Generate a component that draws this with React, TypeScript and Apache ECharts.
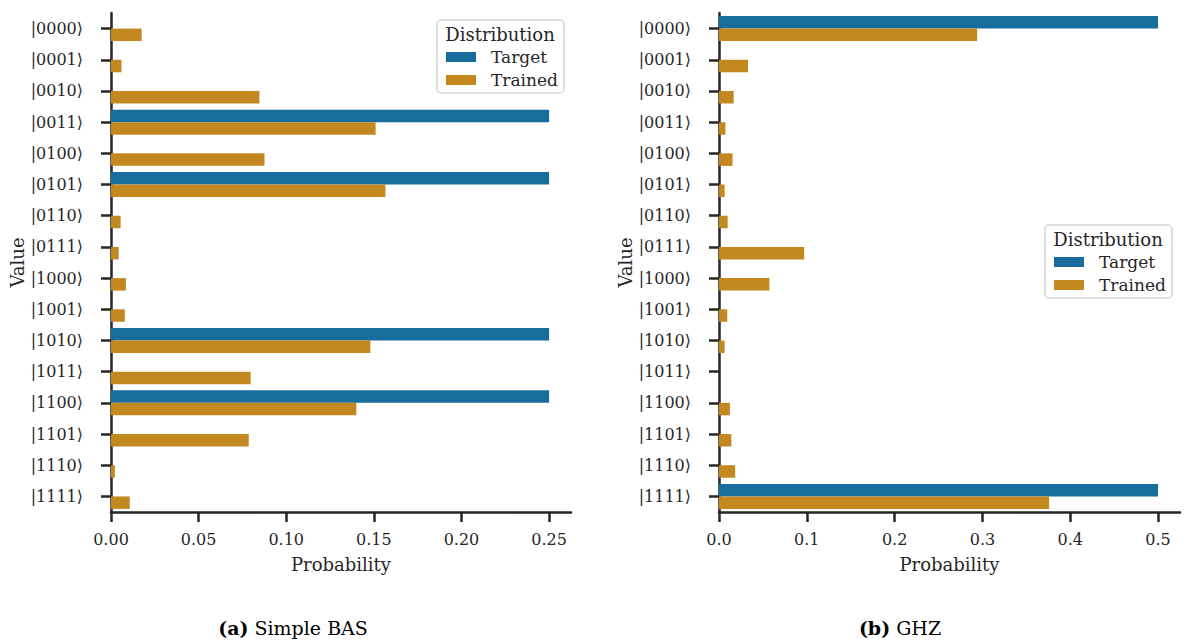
import React, { useEffect, useRef } from "react";
import * as echarts from "echarts";

const categories = [
  "|0000⟩", "|0001⟩", "|0010⟩", "|0011⟩",
  "|0100⟩", "|0101⟩", "|0110⟩", "|0111⟩",
  "|1000⟩", "|1001⟩", "|1010⟩", "|1011⟩",
  "|1100⟩", "|1101⟩", "|1110⟩", "|1111⟩",
];

const basTarget = [0, 0, 0, 0.25, 0, 0.25, 0, 0, 0, 0, 0.25, 0, 0.25, 0, 0, 0];
const basTrained = [
  0.0175, 0.006, 0.0847, 0.151, 0.0876, 0.1566, 0.0055, 0.0044,
  0.0085, 0.0079, 0.148, 0.0797, 0.14, 0.0786, 0.0022, 0.0107,
];

const ghzTarget = [0.5, 0, 0, 0, 0, 0, 0, 0, 0, 0, 0, 0, 0, 0, 0, 0.5];
const ghzTrained = [
  0.294, 0.033, 0.0167, 0.0073, 0.0154, 0.0064, 0.0099, 0.097,
  0.0574, 0.0094, 0.0064, 0, 0.0124, 0.0141, 0.0184, 0.376,
];

const basTicks = [0, 0.05, 0.1, 0.15, 0.2, 0.25];
const ghzTicks = [0, 0.1, 0.2, 0.3, 0.4, 0.5];
const basMax = 0.2625;
const ghzMax = 0.525;

const legendNames = ["Target", "Trained"];
const captions = ["Simple BAS", "GHZ"];

const FONT = "DejaVu Serif";
const FS = 16;
const TEXT = "#262626";
const BLUE = "#176D9C";
const ORANGE = "#C38820";

export default function App() {
  const ref = useRef<HTMLDivElement>(null);
  useEffect(() => {
    if (!ref.current) return;
    const chart = echarts.init(ref.current, undefined, { renderer: "svg" });
    const axisLine = { show: true, lineStyle: { color: TEXT, width: 2.5 } };
    const axisTick = { show: true, length: 10, lineStyle: { color: TEXT, width: 2.5 } };
    const mkX = (idx: number, max: number, ticks: number[], dec: number) => ({
      type: "value",
      gridIndex: idx,
      min: 0,
      max,
      axisLine,
      axisTick: { ...axisTick, customValues: ticks },
      splitLine: { show: false },
      axisLabel: {
        customValues: ticks,
        formatter: (v: number) => v.toFixed(dec),
        fontFamily: FONT,
        fontSize: FS,
        color: TEXT,
        margin: 19,
      },
      name: "Probability",
      nameLocation: "middle",
      nameGap: 43,
      nameTextStyle: { fontFamily: FONT, fontSize: 18, color: TEXT },
    });
    const mkY = (idx: number) => ({
      type: "category",
      gridIndex: idx,
      data: categories,
      inverse: true,
      axisLine,
      axisTick: { ...axisTick, alignWithLabel: true },
      axisLabel: { fontFamily: FONT, fontSize: FS, color: TEXT, margin: 28 },
      name: "Value",
      nameLocation: "middle",
      nameGap: 82,
      nameTextStyle: { fontFamily: FONT, fontSize: 18, color: TEXT },
    });
    const bar = (name: string, idx: number, data: number[], color: string) => ({
      type: "bar",
      name,
      xAxisIndex: idx,
      yAxisIndex: idx,
      data,
      barWidth: 12.5,
      barGap: "0%",
      itemStyle: { color },
    });
    const legend = (left: number, top: number) => ({
      orient: "vertical",
      left,
      top,
      padding: 0,
      itemWidth: 30,
      itemHeight: 10,
      itemGap: 3,
      icon: "rect",
      data: legendNames,
      textStyle: {
        fontFamily: FONT,
        fontSize: 17,
        color: TEXT,
        lineHeight: 20,
        padding: [0, 0, 0, 10],
      },
    });
    const legendBox = (x: number, y: number) => [
      {
        type: "rect",
        shape: { x, y, width: 127, height: 73, r: 4 },
        style: { fill: "rgba(255,255,255,0.8)", stroke: "#d6d6d6", lineWidth: 1.5 },
        z: 0,
      },
      {
        type: "text",
        x: x + 63,
        y: y + 14,
        style: {
          text: "Distribution",
          fontFamily: FONT,
          fontSize: 18,
          fill: TEXT,
          align: "center",
          verticalAlign: "middle",
        },
        z: 1,
      },
    ];
    const caption = (cx: number, label: string, text: string) => ({
      type: "text",
      x: cx,
      y: 628,
      style: {
        text: `{b|${label}} ${text}`,
        fontFamily: FONT,
        fontSize: 19,
        fill: "#000",
        align: "center",
        verticalAlign: "middle",
        rich: {
          b: { fontFamily: FONT, fontSize: 19, fontWeight: "bold", fill: "#000" },
        },
      },
    });
    chart.setOption({
      animation: false,
      grid: [
        { left: 111, top: 13, width: 460, height: 499 },
        { left: 719, top: 13, width: 461, height: 499 },
      ],
      xAxis: [mkX(0, basMax, basTicks, 2), mkX(1, ghzMax, ghzTicks, 1)],
      yAxis: [mkY(0), mkY(1)],
      legend: [legend(446, 47), legend(1054, 252)],
      series: [
        bar(legendNames[0], 0, basTarget, BLUE),
        bar(legendNames[1], 0, basTrained, ORANGE),
        bar(legendNames[0], 1, ghzTarget, BLUE),
        bar(legendNames[1], 1, ghzTrained, ORANGE),
      ],
      graphic: [
        ...legendBox(437, 20),
        ...legendBox(1045, 225),
        caption(293, "(a)", captions[0]),
        caption(900, "(b)", captions[1]),
      ],
    });
    return () => chart.dispose();
  }, []);
  return (
    <div
      ref={ref}
      style={{ position: "fixed", left: 0, top: 0, width: 1188, height: 640, background: "#fff" }}
    />
  );
}
